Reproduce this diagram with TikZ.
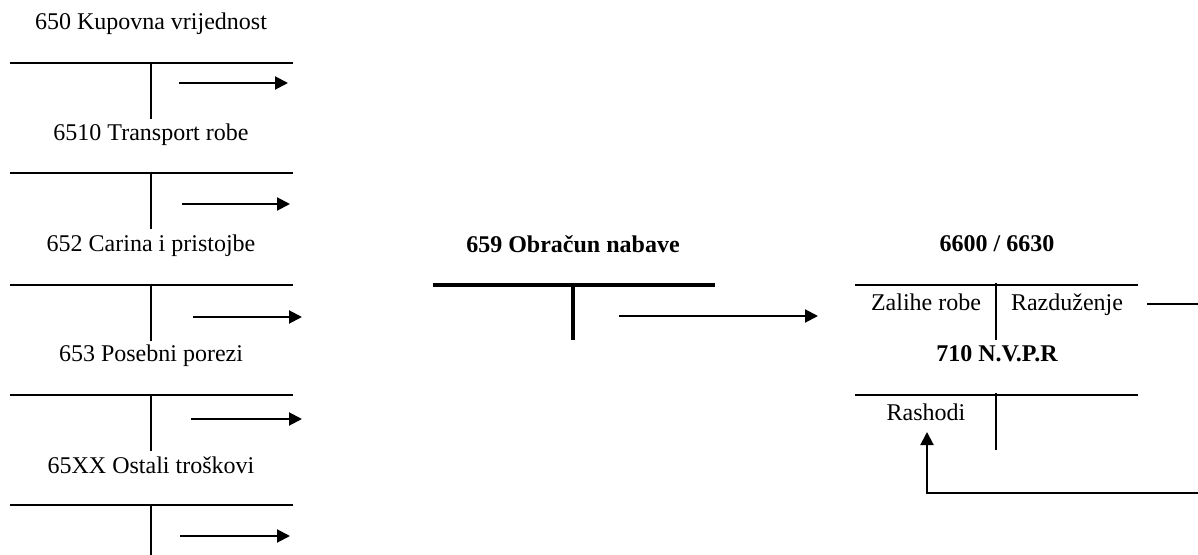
\documentclass[tikz,border=0pt]{standalone}
\usepackage{fontspec}
\setmainfont{Liberation Serif}
\usetikzlibrary{arrows.meta}
\begin{document}
\begin{tikzpicture}[x=0.5pt,y=-0.5pt,
  lbl/.style={font=\fontsize{12}{14}\selectfont, inner sep=0pt, text height=8.5pt, text depth=2.5pt},
  blbl/.style={lbl, font=\fontsize{12}{14}\selectfont\bfseries},
  tline/.style={line width=0.75pt},
  thick tline/.style={line width=2.2pt},
  flow/.style={line width=1pt, -{Triangle[length=6.5pt,width=6.5pt]}}]
\useasboundingbox (0,0) rectangle (1198,555);
\clip (0,0) rectangle (1198,555);
% left column
\foreach \i/\t/\ty/\ly/\ay/\ax/\bx in {
  1/{650 Kupovna vrijednost}/24/63/83/179/288,
  2/{6510 Transport robe}/135/173/204/182/290,
  3/{652 Carina i pristojbe}/246/285/317/193/302,
  4/{653 Posebni porezi}/356/395/419/191/302,
  5/{65XX Ostali troškovi}/467/505/536/180/290}{
  \node[lbl] (t\i) at (151,\ty) {\t};
  \coordinate (la\i) at (10,\ly);
  \coordinate (lb\i) at (293,\ly);
  \coordinate (lc\i) at (151,\ly-1);
  \coordinate (ld\i) at (151,\ly+56);
  \coordinate (as\i) at (\ax,\ay);
  \coordinate (ae\i) at (\bx,\ay);
  \draw[tline] (la\i) -- (lb\i);
  \draw[tline] (lc\i) -- (ld\i);
  \draw[flow] (as\i) -- (ae\i);
}
% middle
\node[blbl] (m) at (573,247) {659 Obračun nabave};
\coordinate (ma) at (433,285);
\coordinate (mb) at (715,285);
\coordinate (mc) at (573,285);
\coordinate (md) at (573,340);
\draw[thick tline] (ma) -- (mb);
\draw[thick tline] (mc) -- (md);
\coordinate (ms) at (619,316);
\coordinate (me) at (818,316);
\draw[flow] (ms) -- (me);
% right
\node[blbl] (r) at (997,246) {6600 / 6630};
\coordinate (ra) at (855,285);
\coordinate (rb) at (1138,285);
\coordinate (rc) at (996,283);
\coordinate (rd) at (996,340);
\draw[tline] (ra) -- (rb);
\draw[tline] (rc) -- (rd);
\node[lbl] (zal) at (926,305) {Zalihe robe};
\node[lbl] (raz) at (1067,305) {Razduženje};
\node[blbl] (nvpr) at (997,356) {710 N.V.P.R};
\coordinate (sa) at (855,395);
\coordinate (sb) at (1138,395);
\coordinate (sc) at (996,393);
\coordinate (sd) at (996,450);
\draw[tline] (sa) -- (sb);
\draw[tline] (sc) -- (sd);
\node[lbl] (ras) at (926,414) {Rashodi};
\coordinate (fs) at (1147,304);
\coordinate (fc) at (1215,304);
\coordinate (fd) at (1215,493);
\coordinate (fe) at (927,493);
\coordinate (ft) at (927,432);
\draw[flow] (fs) -- (fc) -- (fd) -- (fe) -- (ft);
\end{tikzpicture}
\end{document}
